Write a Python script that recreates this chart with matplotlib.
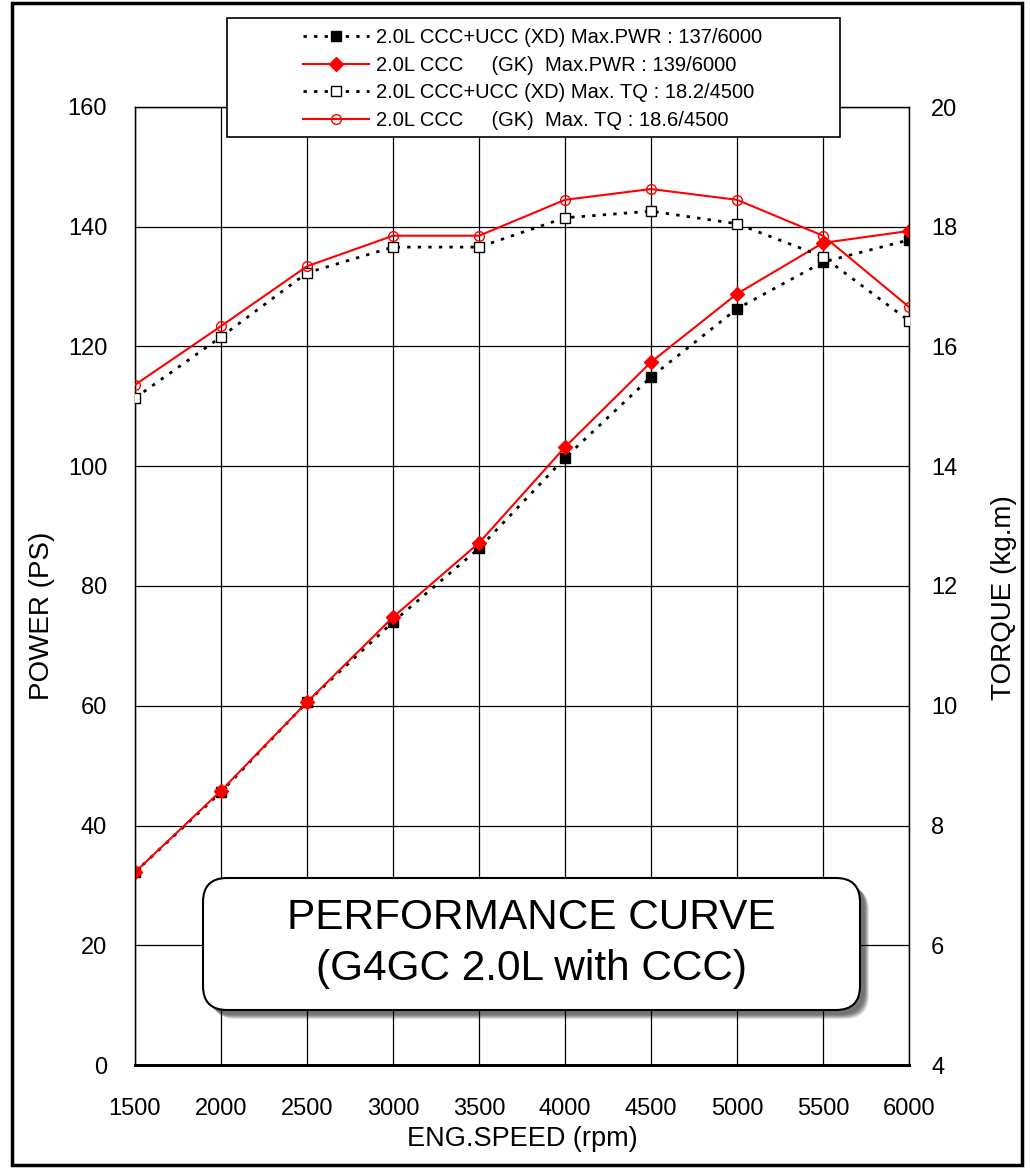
import matplotlib.pyplot as plt
import numpy as np
from matplotlib.patches import FancyBboxPatch, Rectangle

plt.rcParams['font.family'] = ['Liberation Sans', 'DejaVu Sans']

rpm = [1500, 2000, 2500, 3000, 3500, 4000, 4500, 5000, 5500, 6000]
pwr_xd = [32.2, 45.6, 60.6, 74.0, 86.3, 101.4, 114.9, 126.3, 134.1, 137.8]
pwr_gk = [32.2, 45.8, 60.6, 74.8, 87.2, 103.2, 117.4, 128.8, 137.3, 139.3]
tq_xd = [15.14, 16.16, 17.23, 17.66, 17.66, 18.15, 18.26, 18.05, 17.5, 16.43]
tq_gk = [15.36, 16.34, 17.34, 17.85, 17.85, 18.45, 18.63, 18.45, 17.85, 16.66]

labels = ['2.0L CCC+UCC (XD) Max.PWR : 137/6000',
          '2.0L CCC     (GK)  Max.PWR : 139/6000',
          '2.0L CCC+UCC (XD) Max. TQ : 18.2/4500',
          '2.0L CCC     (GK)  Max. TQ : 18.6/4500']

W, H = 1031, 1168
fig = plt.figure(figsize=(W / 100, H / 100), dpi=100)
ax = fig.add_axes([135 / W, 1 - 1065 / H, (909 - 135) / W, (1065 - 107) / H])
ax2 = ax.twinx()

dots = (0, (1.2, 2.6))
l1, = ax.plot(rpm, pwr_xd, color='black', ls=dots, lw=2, marker='s', ms=7,
              mfc='black', mec='black', zorder=4)
l2, = ax.plot(rpm, pwr_gk, color='red', ls='-', lw=1.5, marker='D', ms=7,
              mfc='red', mec='red', zorder=5)
l3, = ax2.plot(rpm, tq_xd, color='black', ls=dots, lw=2, marker='s', ms=7,
               mfc='white', mec='black', zorder=4)
l4, = ax2.plot(rpm, tq_gk, color='red', ls='-', lw=1.5, marker='o', ms=7,
               mfc='none', mec='red', zorder=5)

ax.set_xlim(1500, 6000)
ax.set_ylim(0, 160)
ax2.set_ylim(4, 20)
ax.set_xticks(rpm)
ax.set_yticks(np.arange(0, 161, 20))
ax2.set_yticks(np.arange(4, 21, 2))
ax.grid(True, color='black', lw=0.9)
ax.tick_params(length=0, labelsize=17, pad=20)
ax.tick_params(axis='x', pad=24)
ax2.tick_params(length=0, labelsize=17, pad=16)
for a in (ax, ax2):
    for s in ('left', 'right', 'top'):
        a.spines[s].set_linewidth(0.9)
    a.spines['bottom'].set_linewidth(2)

ax.set_xlabel('ENG.SPEED (rpm)', fontsize=19.5, labelpad=4)
fig.text(42 / W, 1 - 700 / H, 'POWER (PS)', rotation=90, fontsize=20,
         ha='center', va='bottom')
fig.text(1004 / W, 1 - 700 / H, 'TORQUE (kg.m)', rotation=90, fontsize=20,
         ha='center', va='bottom')

# overlay in pixel coordinates for frame, legend box and title box
ov = fig.add_axes([0, 0, 1, 1], zorder=10)
ov.set_xlim(0, W)
ov.set_ylim(H, 0)
ov.axis('off')
ov.patch.set_visible(False)

ov.add_patch(Rectangle((12, 3), 1010, 1162, fill=False, ec='black', lw=2.5))
ov.add_patch(Rectangle((227, 18), 613, 119, fc='white', ec='black', lw=1.2))
ov.legend([l1, l2, l3, l4], labels, loc='upper left',
          bbox_to_anchor=(303 / W, 1 - 28 / H), bbox_transform=fig.transFigure,
          frameon=False, fontsize=14.5, handlelength=3.3, handletextpad=0.3,
          labelspacing=0.43, borderpad=0, borderaxespad=0)

bx, by, bw, bh = 203, 878, 657, 132
for i in range(8):
    off = 9 - i * 0.6
    ov.add_patch(FancyBboxPatch((bx + off, by + off), bw, bh,
                                boxstyle='round,pad=0,rounding_size=24',
                                fc='black', ec='none', alpha=0.09))
ov.add_patch(FancyBboxPatch((bx, by), bw, bh, boxstyle='round,pad=0,rounding_size=24',
                            fc='white', ec='black', lw=1.5))
ov.text(bx + bw / 2, 918, 'PERFORMANCE CURVE', ha='center', va='center', fontsize=30.5)
ov.text(bx + bw / 2, 969, '(G4GC 2.0L with CCC)', ha='center', va='center', fontsize=30.5)

fig.savefig('out.png', dpi=100)
